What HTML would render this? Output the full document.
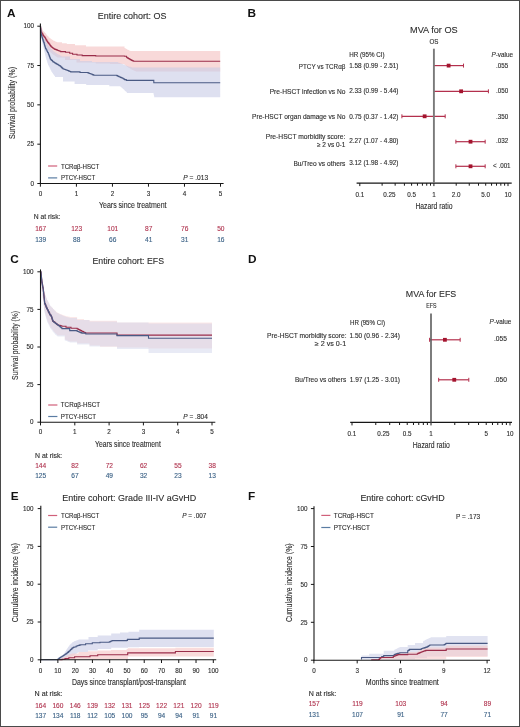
<!DOCTYPE html>
<html><head><meta charset="utf-8"><style>
html,body{margin:0;padding:0;background:#fff;}
body{width:520px;height:727px;overflow:hidden;position:relative;}
svg{position:absolute;left:0;top:0;font-family:"Liberation Sans", sans-serif;will-change:transform;}
</style></head><body>
<svg width="520" height="727" viewBox="0 0 520 727">
<rect x="0" y="0" width="520" height="727" fill="#fff"/>
<text x="7.00" y="16.90" font-size="11.8" fill="#111" font-weight="bold">A</text>
<text x="97.70" y="18.50" font-size="9.8" fill="#2d2d2d" stroke="#2d2d2d" stroke-width="0.12" textLength="68.80" lengthAdjust="spacingAndGlyphs">Entire cohort: OS</text>
<path d="M40.40,26.20H40.95V27.35H41.50V28.50H42.25V29.75H43.00V31.00H43.67V31.67H44.33V32.33H45.00V33.00H45.67V33.83H46.33V34.67H47.00V35.50H47.62V36.12H48.25V36.75H48.88V37.38H49.50V38.00H50.20V38.50H50.90V39.00H51.60V39.50H52.30V40.00H53.00V40.50H53.70V40.80H54.40V41.10H55.10V41.40H55.80V41.70H56.50V42.00H57.20V42.30H62.00V43.30H66.80V44.00H75.00V45.30H86.00V46.50H124.50V47.90H125.12V48.30H125.75V48.70H126.38V49.10H127.00V49.50H127.66V49.80H128.32V50.10H128.98V50.40H129.64V50.70H130.30V51.00H220.20V51.70L220.20,71.50L220.20,71.50L136.00,71.50L136.00,71.20L135.24,71.20L135.24,70.90L134.48,70.90L134.48,70.60L133.72,70.60L133.72,70.30L132.96,70.30L132.96,70.00L132.20,70.00L132.20,69.58L131.50,69.58L131.50,69.17L130.80,69.17L130.80,68.75L130.10,68.75L130.10,68.33L129.40,68.33L129.40,67.92L128.70,67.92L128.70,67.50L128.00,67.50L128.00,67.00L127.30,67.00L127.30,66.50L126.60,66.50L126.60,66.00L125.90,66.00L125.90,65.50L125.20,65.50L125.20,65.00L124.50,65.00L124.50,64.00L110.00,64.00L110.00,63.50L95.70,63.50L95.70,62.50L76.50,62.50L76.50,60.00L65.00,60.00L65.00,57.50L57.20,57.50L57.20,57.00L56.46,57.00L56.46,56.50L55.71,56.50L55.71,56.00L54.97,56.00L54.97,55.50L54.23,55.50L54.23,55.00L53.49,55.00L53.49,54.50L52.74,54.50L52.74,54.00L52.00,54.00L52.00,53.33L51.27,53.33L51.27,52.67L50.53,52.67L50.53,52.00L49.80,52.00L49.80,51.33L49.07,51.33L49.07,50.67L48.33,50.67L48.33,50.00L47.60,50.00L47.60,48.86L47.09,48.86L47.09,47.71L46.57,47.71L46.57,46.57L46.06,46.57L46.06,45.43L45.54,45.43L45.54,44.29L45.03,44.29L45.03,43.14L44.51,43.14L44.51,42.00L44.00,42.00L44.00,40.90L43.63,40.90L43.63,39.80L43.27,39.80L43.27,38.70L42.90,38.70L42.90,37.60L42.53,37.60L42.53,36.50L42.17,36.50L42.17,35.40L41.80,35.40L41.80,34.30L41.65,34.30L41.65,33.20L41.50,33.20L41.50,32.10L41.35,32.10L41.35,31.00L41.20,31.00L41.20,29.80L41.00,29.80L41.00,28.60L40.80,28.60L40.80,27.40L40.60,27.40L40.60,26.20L40.40,26.20Z" fill="#f6cccc" fill-opacity="0.75"/>
<path d="M40.40,26.20H40.70V27.60H41.00V29.00H41.33V30.33H41.67V31.67H42.00V33.00H42.50V34.33H43.00V35.67H43.50V37.00H44.25V38.50H45.00V40.00H45.65V41.25H46.30V42.50H46.95V43.75H47.60V45.00H48.40V46.00H49.20V47.00H50.00V48.00H50.75V48.75H51.50V49.50H52.25V50.25H53.00V51.00H53.70V51.50H54.40V52.00H55.10V52.50H55.80V53.00H56.50V53.50H57.20V54.00H57.89V54.36H58.57V54.71H59.26V55.07H59.94V55.43H60.63V55.79H61.31V56.14H62.00V56.50H70.00V59.00H80.00V61.00H92.00V62.00H118.00V62.50H118.67V62.75H119.33V63.00H120.00V63.25H120.67V63.50H121.33V63.75H122.00V64.00H122.71V64.29H123.43V64.57H124.14V64.86H124.86V65.14H125.57V65.43H126.29V65.71H127.00V66.00H127.71V66.21H128.43V66.43H129.14V66.64H129.86V66.86H130.57V67.07H131.29V67.29H132.00V67.50H220.20V67.50L220.20,97.20L220.20,97.20L154.20,97.20L154.20,96.07L153.97,96.07L153.97,94.93L153.73,94.93L153.73,93.80L153.50,93.80L153.50,93.00L127.00,93.00L127.00,92.30L126.30,92.30L126.30,91.60L125.60,91.60L125.60,90.90L124.90,90.90L124.90,90.20L124.20,90.20L124.20,89.50L123.50,89.50L123.50,88.90L122.80,88.90L122.80,88.30L122.10,88.30L122.10,87.70L121.40,87.70L121.40,87.10L120.70,87.10L120.70,86.50L120.00,86.50L120.00,86.20L109.30,86.20L109.30,85.00L86.20,85.00L86.20,83.90L74.60,83.90L74.60,81.60L63.00,81.60L63.00,77.00L55.00,77.00L55.00,76.00L54.30,76.00L54.30,75.00L53.60,75.00L53.60,74.00L52.90,74.00L52.90,73.00L52.20,73.00L52.20,72.00L51.50,72.00L51.50,70.83L50.92,70.83L50.92,69.67L50.33,69.67L50.33,68.50L49.75,68.50L49.75,67.33L49.17,67.33L49.17,66.17L48.58,66.17L48.58,65.00L48.00,65.00L48.00,63.83L47.63,63.83L47.63,62.67L47.27,62.67L47.27,61.50L46.90,61.50L46.90,60.33L46.53,60.33L46.53,59.17L46.17,59.17L46.17,58.00L45.80,58.00L45.80,56.86L45.54,56.86L45.54,55.71L45.29,55.71L45.29,54.57L45.03,54.57L45.03,53.43L44.77,53.43L44.77,52.29L44.51,52.29L44.51,51.14L44.26,51.14L44.26,50.00L44.00,50.00L44.00,48.86L43.71,48.86L43.71,47.71L43.43,47.71L43.43,46.57L43.14,46.57L43.14,45.43L42.86,45.43L42.86,44.29L42.57,44.29L42.57,43.14L42.29,43.14L42.29,42.00L42.00,42.00L42.00,40.83L41.83,40.83L41.83,39.67L41.67,39.67L41.67,38.50L41.50,38.50L41.50,37.33L41.33,37.33L41.33,36.17L41.17,36.17L41.17,35.00L41.00,35.00L41.00,33.74L40.91,33.74L40.91,32.49L40.83,32.49L40.83,31.23L40.74,31.23L40.74,29.97L40.66,29.97L40.66,28.71L40.57,28.71L40.57,27.46L40.49,27.46L40.49,26.20L40.40,26.20Z" fill="#c8cce6" fill-opacity="0.6"/>
<path d="M40.40,26.20H40.54V27.42H40.68V28.64H40.82V29.86H40.96V31.08H41.10V32.30H41.95V33.70H42.80V35.10H43.50V36.00H44.20V36.90H44.90V37.80H45.57V38.97H46.23V40.13H46.90V41.30H47.60V42.20H48.30V43.10H49.00V44.00H49.70V44.93H50.40V45.87H51.10V46.80H51.77V47.30H52.45V47.80H53.12V48.30H53.80V48.80H54.50V49.08H55.20V49.36H55.90V49.64H56.60V49.92H57.30V50.20H57.98V50.48H58.66V50.76H59.34V51.04H60.02V51.32H60.70V51.60H65.50V52.30H69.70V53.30H72.60V54.20H77.00V55.00H82.20V55.60H95.70V56.00H124.50V56.30H126.50V57.30H127.13V57.70H127.77V58.10H128.40V58.50H129.05V58.88H129.70V59.25H130.35V59.62H131.00V60.00H131.68V60.33H132.35V60.65H133.02V60.97H133.70V61.30H220.20V61.30" stroke="#9a2d4a" fill="none" stroke-width="1.1"/>
<path d="M40.40,26.20H40.50V27.37H40.60V28.54H40.70V29.71H40.80V30.89H40.90V32.06H41.00V33.23H41.10V34.40H41.44V35.50H41.78V36.60H42.12V37.70H42.46V38.80H42.80V39.90H43.27V41.27H43.73V42.63H44.20V44.00H44.55V45.20H44.90V46.40H45.25V47.60H45.60V48.80H46.27V50.02H46.95V51.25H47.62V52.48H48.30V53.70H48.72V54.80H49.14V55.90H49.56V57.00H49.98V58.10H50.40V59.20H51.08V59.88H51.75V60.55H52.42V61.23H53.10V61.90H53.80V62.32H54.50V62.74H55.20V63.16H55.90V63.58H56.60V64.00H57.28V64.40H57.96V64.80H58.64V65.20H59.32V65.60H60.00V66.00H60.70V66.70H61.40V67.40H62.10V68.10H62.80V68.80H63.48V69.03H64.17V69.27H64.85V69.50H65.53V69.73H66.22V69.97H66.90V70.20H67.66V70.54H68.42V70.88H69.18V71.22H69.94V71.56H70.70V71.90H80.00V72.50H88.00V72.90H88.75V73.18H89.50V73.45H90.25V73.72H91.00V74.00H91.70V74.30H92.40V74.60H93.10V74.90H93.80V75.20H116.80V75.60H117.53V75.97H118.27V76.33H119.00V76.70H119.72V77.02H120.44V77.34H121.16V77.66H121.88V77.98H122.60V78.30H123.27V78.73H123.93V79.17H124.60V79.60H126.30V80.40H153.80V80.40H153.80V82.70H220.20V82.70" stroke="#4a5a84" fill="none" stroke-width="1.1"/>
<line x1="40.40" y1="23.60" x2="40.40" y2="184.00" stroke="#161616" stroke-width="1.1"/>
<line x1="37.30" y1="26.20" x2="40.40" y2="26.20" stroke="#161616" stroke-width="1"/>
<text x="34.00" y="28.40" font-size="6.3" fill="#2d2d2d" stroke="#2d2d2d" stroke-width="0.12" text-anchor="end">100</text>
<line x1="37.30" y1="65.53" x2="40.40" y2="65.53" stroke="#161616" stroke-width="1"/>
<text x="34.00" y="67.73" font-size="6.3" fill="#2d2d2d" stroke="#2d2d2d" stroke-width="0.12" text-anchor="end">75</text>
<line x1="37.30" y1="104.85" x2="40.40" y2="104.85" stroke="#161616" stroke-width="1"/>
<text x="34.00" y="107.05" font-size="6.3" fill="#2d2d2d" stroke="#2d2d2d" stroke-width="0.12" text-anchor="end">50</text>
<line x1="37.30" y1="144.18" x2="40.40" y2="144.18" stroke="#161616" stroke-width="1"/>
<text x="34.00" y="146.38" font-size="6.3" fill="#2d2d2d" stroke="#2d2d2d" stroke-width="0.12" text-anchor="end">25</text>
<line x1="37.30" y1="183.50" x2="40.40" y2="183.50" stroke="#161616" stroke-width="1"/>
<text x="34.00" y="185.70" font-size="6.3" fill="#2d2d2d" stroke="#2d2d2d" stroke-width="0.12" text-anchor="end">0</text>
<line x1="39.90" y1="183.50" x2="223.60" y2="183.50" stroke="#161616" stroke-width="1.1"/>
<line x1="40.40" y1="183.50" x2="40.40" y2="186.70" stroke="#161616" stroke-width="1"/>
<text x="40.40" y="195.50" font-size="6.3" fill="#2d2d2d" stroke="#2d2d2d" stroke-width="0.12" text-anchor="middle">0</text>
<line x1="76.42" y1="183.50" x2="76.42" y2="186.70" stroke="#161616" stroke-width="1"/>
<text x="76.42" y="195.50" font-size="6.3" fill="#2d2d2d" stroke="#2d2d2d" stroke-width="0.12" text-anchor="middle">1</text>
<line x1="112.44" y1="183.50" x2="112.44" y2="186.70" stroke="#161616" stroke-width="1"/>
<text x="112.44" y="195.50" font-size="6.3" fill="#2d2d2d" stroke="#2d2d2d" stroke-width="0.12" text-anchor="middle">2</text>
<line x1="148.46" y1="183.50" x2="148.46" y2="186.70" stroke="#161616" stroke-width="1"/>
<text x="148.46" y="195.50" font-size="6.3" fill="#2d2d2d" stroke="#2d2d2d" stroke-width="0.12" text-anchor="middle">3</text>
<line x1="184.48" y1="183.50" x2="184.48" y2="186.70" stroke="#161616" stroke-width="1"/>
<text x="184.48" y="195.50" font-size="6.3" fill="#2d2d2d" stroke="#2d2d2d" stroke-width="0.12" text-anchor="middle">4</text>
<line x1="220.50" y1="183.50" x2="220.50" y2="186.70" stroke="#161616" stroke-width="1"/>
<text x="220.50" y="195.50" font-size="6.3" fill="#2d2d2d" stroke="#2d2d2d" stroke-width="0.12" text-anchor="middle">5</text>
<text stroke="#2d2d2d" stroke-width="0.12" transform="translate(15.0,103) rotate(-90)" font-size="8.6" fill="#2d2d2d" text-anchor="middle" textLength="72" lengthAdjust="spacingAndGlyphs">Survival probability (%)</text>
<text x="99.00" y="207.80" font-size="8.7" fill="#2d2d2d" stroke="#2d2d2d" stroke-width="0.12" textLength="67.50" lengthAdjust="spacingAndGlyphs">Years since treatment</text>
<line x1="48.10" y1="166.00" x2="57.20" y2="166.00" stroke="#d0607a" stroke-width="1.2"/>
<text x="60.90" y="168.70" font-size="6.4" fill="#2d2d2d" stroke="#2d2d2d" stroke-width="0.12" textLength="38.30" lengthAdjust="spacingAndGlyphs">TCRαβ-HSCT</text>
<line x1="48.10" y1="177.90" x2="57.20" y2="177.90" stroke="#5a7ca3" stroke-width="1.2"/>
<text x="60.90" y="180.30" font-size="6.4" fill="#2d2d2d" stroke="#2d2d2d" stroke-width="0.12" textLength="34.30" lengthAdjust="spacingAndGlyphs">PTCY-HSCT</text>
<text x="183.3" y="179.8" font-size="6.4" fill="#2d2d2d" stroke="#2d2d2d" stroke-width="0.12" textLength="24.8" lengthAdjust="spacingAndGlyphs"><tspan font-style="italic">P</tspan> = .013</text>
<text x="33.80" y="218.80" font-size="6.4" fill="#2d2d2d" stroke="#2d2d2d" stroke-width="0.12" textLength="26.60" lengthAdjust="spacingAndGlyphs">N at risk:</text>
<text x="40.70" y="231.10" font-size="6.6" fill="#b0344f" stroke="#b0344f" stroke-width="0.12" text-anchor="middle">167</text>
<text x="40.70" y="241.50" font-size="6.6" fill="#3c6286" stroke="#3c6286" stroke-width="0.12" text-anchor="middle">139</text>
<text x="76.72" y="231.10" font-size="6.6" fill="#b0344f" stroke="#b0344f" stroke-width="0.12" text-anchor="middle">123</text>
<text x="76.72" y="241.50" font-size="6.6" fill="#3c6286" stroke="#3c6286" stroke-width="0.12" text-anchor="middle">88</text>
<text x="112.74" y="231.10" font-size="6.6" fill="#b0344f" stroke="#b0344f" stroke-width="0.12" text-anchor="middle">101</text>
<text x="112.74" y="241.50" font-size="6.6" fill="#3c6286" stroke="#3c6286" stroke-width="0.12" text-anchor="middle">66</text>
<text x="148.76" y="231.10" font-size="6.6" fill="#b0344f" stroke="#b0344f" stroke-width="0.12" text-anchor="middle">87</text>
<text x="148.76" y="241.50" font-size="6.6" fill="#3c6286" stroke="#3c6286" stroke-width="0.12" text-anchor="middle">41</text>
<text x="184.78" y="231.10" font-size="6.6" fill="#b0344f" stroke="#b0344f" stroke-width="0.12" text-anchor="middle">76</text>
<text x="184.78" y="241.50" font-size="6.6" fill="#3c6286" stroke="#3c6286" stroke-width="0.12" text-anchor="middle">31</text>
<text x="220.80" y="231.10" font-size="6.6" fill="#b0344f" stroke="#b0344f" stroke-width="0.12" text-anchor="middle">50</text>
<text x="220.80" y="241.50" font-size="6.6" fill="#3c6286" stroke="#3c6286" stroke-width="0.12" text-anchor="middle">16</text>
<text x="247.40" y="16.80" font-size="11.8" fill="#111" font-weight="bold">B</text>
<text x="410.00" y="33.40" font-size="9.7" fill="#2d2d2d" stroke="#2d2d2d" stroke-width="0.12" textLength="47.70" lengthAdjust="spacingAndGlyphs">MVA for OS</text>
<text x="429.50" y="43.90" font-size="6.5" fill="#2d2d2d" stroke="#2d2d2d" stroke-width="0.12" textLength="9.00" lengthAdjust="spacingAndGlyphs">OS</text>
<line x1="356.60" y1="183.10" x2="511.70" y2="183.10" stroke="#161616" stroke-width="1.1"/>
<line x1="359.80" y1="183.10" x2="359.80" y2="186.10" stroke="#161616" stroke-width="1.0"/>
<line x1="382.11" y1="183.10" x2="382.11" y2="185.70" stroke="#161616" stroke-width="1.0"/>
<line x1="395.15" y1="183.10" x2="395.15" y2="185.70" stroke="#161616" stroke-width="1.0"/>
<line x1="404.41" y1="183.10" x2="404.41" y2="185.70" stroke="#161616" stroke-width="1.0"/>
<line x1="411.59" y1="183.10" x2="411.59" y2="185.70" stroke="#161616" stroke-width="1.0"/>
<line x1="417.46" y1="183.10" x2="417.46" y2="185.70" stroke="#161616" stroke-width="1.0"/>
<line x1="422.42" y1="183.10" x2="422.42" y2="185.70" stroke="#161616" stroke-width="1.0"/>
<line x1="426.72" y1="183.10" x2="426.72" y2="185.70" stroke="#161616" stroke-width="1.0"/>
<line x1="430.51" y1="183.10" x2="430.51" y2="185.70" stroke="#161616" stroke-width="1.0"/>
<line x1="433.90" y1="183.10" x2="433.90" y2="186.10" stroke="#161616" stroke-width="1.0"/>
<line x1="456.21" y1="183.10" x2="456.21" y2="185.70" stroke="#161616" stroke-width="1.0"/>
<line x1="469.25" y1="183.10" x2="469.25" y2="185.70" stroke="#161616" stroke-width="1.0"/>
<line x1="478.51" y1="183.10" x2="478.51" y2="185.70" stroke="#161616" stroke-width="1.0"/>
<line x1="485.69" y1="183.10" x2="485.69" y2="185.70" stroke="#161616" stroke-width="1.0"/>
<line x1="491.56" y1="183.10" x2="491.56" y2="185.70" stroke="#161616" stroke-width="1.0"/>
<line x1="496.52" y1="183.10" x2="496.52" y2="185.70" stroke="#161616" stroke-width="1.0"/>
<line x1="500.82" y1="183.10" x2="500.82" y2="185.70" stroke="#161616" stroke-width="1.0"/>
<line x1="504.61" y1="183.10" x2="504.61" y2="185.70" stroke="#161616" stroke-width="1.0"/>
<line x1="508.00" y1="183.10" x2="508.00" y2="186.10" stroke="#161616" stroke-width="1.0"/>
<text x="359.80" y="197.00" font-size="6.3" fill="#2d2d2d" stroke="#2d2d2d" stroke-width="0.12" text-anchor="middle">0.1</text>
<text x="389.29" y="197.00" font-size="6.3" fill="#2d2d2d" stroke="#2d2d2d" stroke-width="0.12" text-anchor="middle">0.25</text>
<text x="411.59" y="197.00" font-size="6.3" fill="#2d2d2d" stroke="#2d2d2d" stroke-width="0.12" text-anchor="middle">0.5</text>
<text x="433.90" y="197.00" font-size="6.3" fill="#2d2d2d" stroke="#2d2d2d" stroke-width="0.12" text-anchor="middle">1</text>
<text x="456.21" y="197.00" font-size="6.3" fill="#2d2d2d" stroke="#2d2d2d" stroke-width="0.12" text-anchor="middle">2.0</text>
<text x="485.69" y="197.00" font-size="6.3" fill="#2d2d2d" stroke="#2d2d2d" stroke-width="0.12" text-anchor="middle">5.0</text>
<text x="508.00" y="197.00" font-size="6.3" fill="#2d2d2d" stroke="#2d2d2d" stroke-width="0.12" text-anchor="middle">10</text>
<line x1="433.58" y1="65.60" x2="463.52" y2="65.60" stroke="#b3304d" stroke-width="1.2"/>
<line x1="433.58" y1="63.60" x2="433.58" y2="67.60" stroke="#b3304d" stroke-width="1.0"/>
<line x1="463.52" y1="63.60" x2="463.52" y2="67.60" stroke="#b3304d" stroke-width="1.0"/>
<rect x="446.72" y="63.70" width="3.8" height="3.8" fill="#a4142e"/>
<line x1="433.58" y1="91.30" x2="488.41" y2="91.30" stroke="#b3304d" stroke-width="1.2"/>
<line x1="433.58" y1="89.30" x2="433.58" y2="93.30" stroke="#b3304d" stroke-width="1.0"/>
<line x1="488.41" y1="89.30" x2="488.41" y2="93.30" stroke="#b3304d" stroke-width="1.0"/>
<rect x="459.22" y="89.40" width="3.8" height="3.8" fill="#a4142e"/>
<line x1="401.90" y1="116.30" x2="445.18" y2="116.30" stroke="#b3304d" stroke-width="1.2"/>
<line x1="401.90" y1="114.30" x2="401.90" y2="118.30" stroke="#b3304d" stroke-width="1.0"/>
<line x1="445.18" y1="114.30" x2="445.18" y2="118.30" stroke="#b3304d" stroke-width="1.0"/>
<rect x="422.74" y="114.40" width="3.8" height="3.8" fill="#a4142e"/>
<line x1="455.88" y1="141.70" x2="485.17" y2="141.70" stroke="#b3304d" stroke-width="1.2"/>
<line x1="455.88" y1="139.70" x2="455.88" y2="143.70" stroke="#b3304d" stroke-width="1.0"/>
<line x1="485.17" y1="139.70" x2="485.17" y2="143.70" stroke="#b3304d" stroke-width="1.0"/>
<rect x="468.62" y="139.80" width="3.8" height="3.8" fill="#a4142e"/>
<line x1="455.88" y1="166.30" x2="485.17" y2="166.30" stroke="#b3304d" stroke-width="1.2"/>
<line x1="455.88" y1="164.30" x2="455.88" y2="168.30" stroke="#b3304d" stroke-width="1.0"/>
<line x1="485.17" y1="164.30" x2="485.17" y2="168.30" stroke="#b3304d" stroke-width="1.0"/>
<rect x="468.62" y="164.40" width="3.8" height="3.8" fill="#a4142e"/>
<line x1="433.90" y1="48.70" x2="433.90" y2="183.10" stroke="#7a7a7a" stroke-width="1.9"/>
<text x="415.40" y="208.70" font-size="8.7" fill="#2d2d2d" stroke="#2d2d2d" stroke-width="0.12" textLength="37.10" lengthAdjust="spacingAndGlyphs">Hazard ratio</text>
<text x="349.20" y="57.00" font-size="6.8" fill="#2d2d2d" stroke="#2d2d2d" stroke-width="0.12" textLength="35.40" lengthAdjust="spacingAndGlyphs">HR (95% CI)</text>
<text x="491.4" y="56.9" font-size="6.8" fill="#2d2d2d" stroke="#2d2d2d" stroke-width="0.12" textLength="21.6" lengthAdjust="spacingAndGlyphs"><tspan font-style="italic">P</tspan>-value</text>
<text x="298.80" y="68.60" font-size="6.8" fill="#2d2d2d" stroke="#2d2d2d" stroke-width="0.12" textLength="46.60" lengthAdjust="spacingAndGlyphs">PTCY vs TCRαβ</text>
<text x="349.20" y="68.10" font-size="6.8" fill="#2d2d2d" stroke="#2d2d2d" stroke-width="0.12" textLength="49.30" lengthAdjust="spacingAndGlyphs">1.58 (0.99 - 2.51)</text>
<text x="496.00" y="68.10" font-size="6.8" fill="#2d2d2d" stroke="#2d2d2d" stroke-width="0.12" textLength="12.20" lengthAdjust="spacingAndGlyphs">.055</text>
<text x="269.70" y="93.70" font-size="6.8" fill="#2d2d2d" stroke="#2d2d2d" stroke-width="0.12" textLength="75.70" lengthAdjust="spacingAndGlyphs">Pre-HSCT infection vs No</text>
<text x="349.20" y="93.20" font-size="6.8" fill="#2d2d2d" stroke="#2d2d2d" stroke-width="0.12" textLength="49.30" lengthAdjust="spacingAndGlyphs">2.33 (0.99 - 5.44)</text>
<text x="496.00" y="93.20" font-size="6.8" fill="#2d2d2d" stroke="#2d2d2d" stroke-width="0.12" textLength="12.20" lengthAdjust="spacingAndGlyphs">.050</text>
<text x="252.10" y="118.90" font-size="6.8" fill="#2d2d2d" stroke="#2d2d2d" stroke-width="0.12" textLength="93.30" lengthAdjust="spacingAndGlyphs">Pre-HSCT organ damage vs No</text>
<text x="349.20" y="118.50" font-size="6.8" fill="#2d2d2d" stroke="#2d2d2d" stroke-width="0.12" textLength="49.30" lengthAdjust="spacingAndGlyphs">0.75 (0.37 - 1.42)</text>
<text x="496.00" y="118.50" font-size="6.8" fill="#2d2d2d" stroke="#2d2d2d" stroke-width="0.12" textLength="12.20" lengthAdjust="spacingAndGlyphs">.350</text>
<text x="265.70" y="139.10" font-size="6.8" fill="#2d2d2d" stroke="#2d2d2d" stroke-width="0.12" textLength="79.70" lengthAdjust="spacingAndGlyphs">Pre-HSCT morbidity score:</text>
<text x="316.90" y="146.60" font-size="6.8" fill="#2d2d2d" stroke="#2d2d2d" stroke-width="0.12" textLength="28.50" lengthAdjust="spacingAndGlyphs">≥ 2 vs 0-1</text>
<text x="349.20" y="142.70" font-size="6.8" fill="#2d2d2d" stroke="#2d2d2d" stroke-width="0.12" textLength="49.30" lengthAdjust="spacingAndGlyphs">2.27 (1.07 - 4.80)</text>
<text x="496.00" y="142.70" font-size="6.8" fill="#2d2d2d" stroke="#2d2d2d" stroke-width="0.12" textLength="12.40" lengthAdjust="spacingAndGlyphs">.032</text>
<text x="293.40" y="165.80" font-size="6.8" fill="#2d2d2d" stroke="#2d2d2d" stroke-width="0.12" textLength="52.00" lengthAdjust="spacingAndGlyphs">Bu/Treo vs others</text>
<text x="349.20" y="165.40" font-size="6.8" fill="#2d2d2d" stroke="#2d2d2d" stroke-width="0.12" textLength="49.30" lengthAdjust="spacingAndGlyphs">3.12 (1.98 - 4.92)</text>
<text x="493.10" y="168.40" font-size="6.8" fill="#2d2d2d" stroke="#2d2d2d" stroke-width="0.12" textLength="17.50" lengthAdjust="spacingAndGlyphs">&lt; .001</text>
<text x="10.30" y="262.70" font-size="11.8" fill="#111" font-weight="bold">C</text>
<text x="92.50" y="263.80" font-size="9.8" fill="#2d2d2d" stroke="#2d2d2d" stroke-width="0.12" textLength="71.50" lengthAdjust="spacingAndGlyphs">Entire cohort: EFS</text>
<path d="M40.50,271.80H40.83V273.20H41.17V274.60H41.50V276.00H41.75V277.27H42.00V278.55H42.25V279.83H42.50V281.10H42.71V282.23H42.93V283.36H43.14V284.49H43.36V285.61H43.57V286.74H43.79V287.87H44.00V289.00H44.20V290.16H44.40V291.32H44.60V292.48H44.80V293.64H45.00V294.80H45.50V296.10H46.00V297.40H46.50V298.70H47.00V300.00H47.58V301.18H48.16V302.36H48.74V303.54H49.32V304.72H49.90V305.90H50.67V306.67H51.45V307.45H52.23V308.23H53.00V309.00H53.77V309.77H54.55V310.55H55.33V311.33H56.10V312.10H56.75V312.42H57.40V312.73H58.05V313.05H58.70V313.37H59.35V313.68H60.00V314.00H60.69V314.26H61.37V314.51H62.06V314.77H62.74V315.03H63.43V315.29H64.11V315.54H64.80V315.80H65.54V315.97H66.29V316.14H67.03V316.31H67.77V316.49H68.51V316.66H69.26V316.83H70.00V317.00H77.10V318.90H84.00V320.00H89.50V320.70H117.00V321.00H117.00V322.50H212.00V323.00L212.00,349.00L212.00,348.50L148.50,348.50L148.50,347.50L117.00,347.50L117.00,346.70L100.00,346.70L100.00,345.50L89.50,345.50L89.50,343.20L77.10,343.20L77.10,341.50L70.00,341.50L70.00,341.21L69.26,341.21L69.26,340.93L68.51,340.93L68.51,340.64L67.77,340.64L67.77,340.36L67.03,340.36L67.03,340.07L66.29,340.07L66.29,339.79L65.54,339.79L65.54,339.50L64.80,339.50L64.80,335.20L57.50,335.20L57.50,334.65L56.88,334.65L56.88,334.10L56.25,334.10L56.25,333.55L55.62,333.55L55.62,333.00L55.00,333.00L55.00,332.25L54.38,332.25L54.38,331.50L53.75,331.50L53.75,330.75L53.12,330.75L53.12,330.00L52.50,330.00L52.50,329.12L51.88,329.12L51.88,328.25L51.25,328.25L51.25,327.38L50.62,327.38L50.62,326.50L50.00,326.50L50.00,325.25L49.38,325.25L49.38,324.00L48.75,324.00L48.75,322.75L48.12,322.75L48.12,321.50L47.50,321.50L47.50,320.38L47.12,320.38L47.12,319.25L46.75,319.25L46.75,318.12L46.38,318.12L46.38,317.00L46.00,317.00L46.00,315.80L45.70,315.80L45.70,314.60L45.40,314.60L45.40,313.40L45.10,313.40L45.10,312.20L44.80,312.20L44.80,311.00L44.50,311.00L44.50,309.83L44.36,309.83L44.36,308.67L44.22,308.67L44.22,307.50L44.08,307.50L44.08,306.33L43.93,306.33L43.93,305.17L43.79,305.17L43.79,304.00L43.65,304.00L43.65,302.83L43.51,302.83L43.51,301.67L43.37,301.67L43.37,300.50L43.22,300.50L43.22,299.33L43.08,299.33L43.08,298.17L42.94,298.17L42.94,297.00L42.80,297.00L42.80,295.88L42.64,295.88L42.64,294.75L42.47,294.75L42.47,293.62L42.31,293.62L42.31,292.50L42.15,292.50L42.15,291.38L41.99,291.38L41.99,290.25L41.83,290.25L41.83,289.12L41.66,289.12L41.66,288.00L41.50,288.00L41.50,286.75L41.42,286.75L41.42,285.51L41.35,285.51L41.35,284.26L41.27,284.26L41.27,283.02L41.19,283.02L41.19,281.77L41.12,281.77L41.12,280.52L41.04,280.52L41.04,279.28L40.96,279.28L40.96,278.03L40.88,278.03L40.88,276.78L40.81,276.78L40.81,275.54L40.73,275.54L40.73,274.29L40.65,274.29L40.65,273.05L40.58,273.05L40.58,271.80L40.50,271.80Z" fill="#f6cccc" fill-opacity="0.45"/>
<path d="M40.50,271.80H40.83V273.20H41.17V274.60H41.50V276.00H41.70V277.20H41.90V278.40H42.10V279.60H42.30V280.80H42.50V282.00H42.71V283.14H42.93V284.29H43.14V285.43H43.36V286.57H43.57V287.71H43.79V288.86H44.00V290.00H44.25V291.25H44.50V292.50H44.75V293.75H45.00V295.00H45.50V296.25H46.00V297.50H46.50V298.75H47.00V300.00H47.58V301.10H48.16V302.20H48.74V303.30H49.32V304.40H49.90V305.50H50.67V306.38H51.45V307.25H52.23V308.12H53.00V309.00H53.77V309.88H54.55V310.75H55.33V311.62H56.10V312.50H56.75V312.83H57.40V313.17H58.05V313.50H58.70V313.83H59.35V314.17H60.00V314.50H60.69V314.79H61.37V315.07H62.06V315.36H62.74V315.64H63.43V315.93H64.11V316.21H64.80V316.50H65.54V316.71H66.29V316.93H67.03V317.14H67.77V317.36H68.51V317.57H69.26V317.79H70.00V318.00H77.10V320.00H89.50V321.50H117.00V322.50H148.50V323.50H212.00V324.00L212.00,353.00L212.00,353.00L148.50,353.00L148.50,349.00L117.00,349.00L117.00,347.50L117.00,347.50L117.00,346.50L89.50,346.50L89.50,344.50L77.10,344.50L77.10,342.50L70.00,342.50L70.00,342.21L69.26,342.21L69.26,341.93L68.51,341.93L68.51,341.64L67.77,341.64L67.77,341.36L67.03,341.36L67.03,341.07L66.29,341.07L66.29,340.79L65.54,340.79L65.54,340.50L64.80,340.50L64.80,336.50L57.50,336.50L57.50,336.00L56.88,336.00L56.88,335.50L56.25,335.50L56.25,335.00L55.62,335.00L55.62,334.50L55.00,334.50L55.00,333.75L54.38,333.75L54.38,333.00L53.75,333.00L53.75,332.25L53.12,332.25L53.12,331.50L52.50,331.50L52.50,330.62L51.88,330.62L51.88,329.75L51.25,329.75L51.25,328.88L50.62,328.88L50.62,328.00L50.00,328.00L50.00,326.75L49.38,326.75L49.38,325.50L48.75,325.50L48.75,324.25L48.12,324.25L48.12,323.00L47.50,323.00L47.50,321.88L47.12,321.88L47.12,320.75L46.75,320.75L46.75,319.62L46.38,319.62L46.38,318.50L46.00,318.50L46.00,317.30L45.70,317.30L45.70,316.10L45.40,316.10L45.40,314.90L45.10,314.90L45.10,313.70L44.80,313.70L44.80,312.50L44.50,312.50L44.50,311.27L44.35,311.27L44.35,310.05L44.19,310.05L44.19,308.82L44.04,308.82L44.04,307.59L43.88,307.59L43.88,306.36L43.73,306.36L43.73,305.14L43.57,305.14L43.57,303.91L43.42,303.91L43.42,302.68L43.26,302.68L43.26,301.45L43.11,301.45L43.11,300.23L42.95,300.23L42.95,299.00L42.80,299.00L42.80,297.88L42.64,297.88L42.64,296.75L42.47,296.75L42.47,295.62L42.31,295.62L42.31,294.50L42.15,294.50L42.15,293.38L41.99,293.38L41.99,292.25L41.83,292.25L41.83,291.12L41.66,291.12L41.66,290.00L41.50,290.00L41.50,288.79L41.43,288.79L41.43,287.57L41.37,287.57L41.37,286.36L41.30,286.36L41.30,285.15L41.23,285.15L41.23,283.93L41.17,283.93L41.17,282.72L41.10,282.72L41.10,281.51L41.03,281.51L41.03,280.29L40.97,280.29L40.97,279.08L40.90,279.08L40.90,277.87L40.83,277.87L40.83,276.65L40.77,276.65L40.77,275.44L40.70,275.44L40.70,274.23L40.63,274.23L40.63,273.01L40.57,273.01L40.57,271.80L40.50,271.80Z" fill="#c8cce6" fill-opacity="0.42"/>
<path d="M40.50,271.80H40.90V272.50H41.02V273.74H41.15V274.98H41.27V276.21H41.40V277.45H41.52V278.69H41.65V279.92H41.77V281.16H41.90V282.40H42.13V283.68H42.37V284.97H42.60V286.25H42.83V287.53H43.07V288.82H43.30V290.10H43.43V291.33H43.55V292.55H43.68V293.78H43.81V295.01H43.94V296.24H44.06V297.46H44.19V298.69H44.32V299.92H44.45V301.15H44.57V302.37H44.70V303.60H45.20V304.80H45.70V306.00H46.20V307.20H46.70V308.40H47.28V309.56H47.86V310.72H48.44V311.88H49.02V313.04H49.60V314.20H50.23V315.13H50.87V316.07H51.50V317.00H51.83V318.30H52.17V319.60H52.50V320.90H53.30V321.53H54.10V322.17H54.90V322.80H55.70V323.47H56.50V324.13H57.30V324.80H57.99V325.00H58.67V325.20H59.36V325.40H60.04V325.60H60.73V325.80H61.41V326.00H62.10V326.20H66.00V327.20H71.00V328.20H77.10V328.80H77.84V329.16H78.58V329.52H79.32V329.88H80.06V330.24H80.80V330.60H81.46V330.94H82.11V331.29H82.77V331.63H83.43V331.97H84.09V332.31H84.74V332.66H85.40V333.00H117.00V333.00H117.00V335.10H212.00V335.10" stroke="#9a2d4a" fill="none" stroke-width="1.1"/>
<path d="M40.50,271.80H40.90V272.50H41.02V273.74H41.15V274.98H41.27V276.21H41.40V277.45H41.52V278.69H41.65V279.92H41.77V281.16H41.90V282.40H42.13V283.68H42.37V284.97H42.60V286.25H42.83V287.53H43.07V288.82H43.30V290.10H43.43V291.33H43.55V292.55H43.68V293.78H43.81V295.01H43.94V296.24H44.06V297.46H44.19V298.69H44.32V299.92H44.45V301.15H44.57V302.37H44.70V303.60H45.20V304.80H45.70V306.00H46.20V307.20H46.70V308.40H47.28V309.56H47.86V310.72H48.44V311.88H49.02V313.04H49.60V314.20H50.23V315.13H50.87V316.07H51.50V317.00H51.88V318.12H52.25V319.25H52.62V320.38H53.00V321.50H53.66V322.00H54.32V322.50H54.98V323.00H55.64V323.50H56.30V324.00H56.97V324.50H57.65V325.00H58.33V325.50H59.00V326.00H59.77V326.65H60.55V327.30H61.33V327.95H62.10V328.60H69.70V330.60H77.10V331.30H77.81V331.56H78.53V331.81H79.24V332.07H79.96V332.33H80.67V332.59H81.39V332.84H82.10V333.10H85.80V334.00H117.00V334.00H117.00V335.60H148.50V335.60H148.50V338.30H212.00V338.30" stroke="#4a5a84" fill="none" stroke-width="1.1"/>
<line x1="40.50" y1="269.40" x2="40.50" y2="422.70" stroke="#161616" stroke-width="1.1"/>
<line x1="37.40" y1="271.80" x2="40.50" y2="271.80" stroke="#161616" stroke-width="1"/>
<text x="33.50" y="274.00" font-size="6.3" fill="#2d2d2d" stroke="#2d2d2d" stroke-width="0.12" text-anchor="end">100</text>
<line x1="37.40" y1="309.40" x2="40.50" y2="309.40" stroke="#161616" stroke-width="1"/>
<text x="33.50" y="311.60" font-size="6.3" fill="#2d2d2d" stroke="#2d2d2d" stroke-width="0.12" text-anchor="end">75</text>
<line x1="37.40" y1="347.00" x2="40.50" y2="347.00" stroke="#161616" stroke-width="1"/>
<text x="33.50" y="349.20" font-size="6.3" fill="#2d2d2d" stroke="#2d2d2d" stroke-width="0.12" text-anchor="end">50</text>
<line x1="37.40" y1="384.60" x2="40.50" y2="384.60" stroke="#161616" stroke-width="1"/>
<text x="33.50" y="386.80" font-size="6.3" fill="#2d2d2d" stroke="#2d2d2d" stroke-width="0.12" text-anchor="end">25</text>
<line x1="37.40" y1="422.20" x2="40.50" y2="422.20" stroke="#161616" stroke-width="1"/>
<text x="33.50" y="424.40" font-size="6.3" fill="#2d2d2d" stroke="#2d2d2d" stroke-width="0.12" text-anchor="end">0</text>
<line x1="40.00" y1="422.20" x2="215.30" y2="422.20" stroke="#161616" stroke-width="1.1"/>
<line x1="40.50" y1="422.20" x2="40.50" y2="425.40" stroke="#161616" stroke-width="1"/>
<text x="40.50" y="434.30" font-size="6.3" fill="#2d2d2d" stroke="#2d2d2d" stroke-width="0.12" text-anchor="middle">0</text>
<line x1="74.80" y1="422.20" x2="74.80" y2="425.40" stroke="#161616" stroke-width="1"/>
<text x="74.80" y="434.30" font-size="6.3" fill="#2d2d2d" stroke="#2d2d2d" stroke-width="0.12" text-anchor="middle">1</text>
<line x1="109.10" y1="422.20" x2="109.10" y2="425.40" stroke="#161616" stroke-width="1"/>
<text x="109.10" y="434.30" font-size="6.3" fill="#2d2d2d" stroke="#2d2d2d" stroke-width="0.12" text-anchor="middle">2</text>
<line x1="143.40" y1="422.20" x2="143.40" y2="425.40" stroke="#161616" stroke-width="1"/>
<text x="143.40" y="434.30" font-size="6.3" fill="#2d2d2d" stroke="#2d2d2d" stroke-width="0.12" text-anchor="middle">3</text>
<line x1="177.70" y1="422.20" x2="177.70" y2="425.40" stroke="#161616" stroke-width="1"/>
<text x="177.70" y="434.30" font-size="6.3" fill="#2d2d2d" stroke="#2d2d2d" stroke-width="0.12" text-anchor="middle">4</text>
<line x1="212.00" y1="422.20" x2="212.00" y2="425.40" stroke="#161616" stroke-width="1"/>
<text x="212.00" y="434.30" font-size="6.3" fill="#2d2d2d" stroke="#2d2d2d" stroke-width="0.12" text-anchor="middle">5</text>
<text stroke="#2d2d2d" stroke-width="0.12" transform="translate(17.9,345.6) rotate(-90)" font-size="8.6" fill="#2d2d2d" text-anchor="middle" textLength="69" lengthAdjust="spacingAndGlyphs">Survival probability (%)</text>
<text x="95.00" y="446.80" font-size="8.7" fill="#2d2d2d" stroke="#2d2d2d" stroke-width="0.12" textLength="65.80" lengthAdjust="spacingAndGlyphs">Years since treatment</text>
<line x1="48.20" y1="405.00" x2="57.40" y2="405.00" stroke="#d0607a" stroke-width="1.2"/>
<text x="60.80" y="407.20" font-size="6.4" fill="#2d2d2d" stroke="#2d2d2d" stroke-width="0.12" textLength="39.20" lengthAdjust="spacingAndGlyphs">TCRαβ-HSCT</text>
<line x1="48.20" y1="416.50" x2="57.40" y2="416.50" stroke="#5a7ca3" stroke-width="1.2"/>
<text x="60.80" y="418.80" font-size="6.4" fill="#2d2d2d" stroke="#2d2d2d" stroke-width="0.12" textLength="35.20" lengthAdjust="spacingAndGlyphs">PTCY-HSCT</text>
<text x="183.3" y="418.5" font-size="6.4" fill="#2d2d2d" stroke="#2d2d2d" stroke-width="0.12" textLength="24.5" lengthAdjust="spacingAndGlyphs"><tspan font-style="italic">P</tspan> = .804</text>
<text x="35.10" y="457.60" font-size="6.4" fill="#2d2d2d" stroke="#2d2d2d" stroke-width="0.12" textLength="27.20" lengthAdjust="spacingAndGlyphs">N at risk:</text>
<text x="40.70" y="467.90" font-size="6.6" fill="#b0344f" stroke="#b0344f" stroke-width="0.12" text-anchor="middle">144</text>
<text x="40.70" y="478.30" font-size="6.6" fill="#3c6286" stroke="#3c6286" stroke-width="0.12" text-anchor="middle">125</text>
<text x="75.00" y="467.90" font-size="6.6" fill="#b0344f" stroke="#b0344f" stroke-width="0.12" text-anchor="middle">82</text>
<text x="75.00" y="478.30" font-size="6.6" fill="#3c6286" stroke="#3c6286" stroke-width="0.12" text-anchor="middle">67</text>
<text x="109.30" y="467.90" font-size="6.6" fill="#b0344f" stroke="#b0344f" stroke-width="0.12" text-anchor="middle">72</text>
<text x="109.30" y="478.30" font-size="6.6" fill="#3c6286" stroke="#3c6286" stroke-width="0.12" text-anchor="middle">49</text>
<text x="143.60" y="467.90" font-size="6.6" fill="#b0344f" stroke="#b0344f" stroke-width="0.12" text-anchor="middle">62</text>
<text x="143.60" y="478.30" font-size="6.6" fill="#3c6286" stroke="#3c6286" stroke-width="0.12" text-anchor="middle">32</text>
<text x="177.90" y="467.90" font-size="6.6" fill="#b0344f" stroke="#b0344f" stroke-width="0.12" text-anchor="middle">55</text>
<text x="177.90" y="478.30" font-size="6.6" fill="#3c6286" stroke="#3c6286" stroke-width="0.12" text-anchor="middle">23</text>
<text x="212.20" y="467.90" font-size="6.6" fill="#b0344f" stroke="#b0344f" stroke-width="0.12" text-anchor="middle">38</text>
<text x="212.20" y="478.30" font-size="6.6" fill="#3c6286" stroke="#3c6286" stroke-width="0.12" text-anchor="middle">13</text>
<text x="248.00" y="262.90" font-size="11.8" fill="#111" font-weight="bold">D</text>
<text x="405.80" y="296.90" font-size="9.7" fill="#2d2d2d" stroke="#2d2d2d" stroke-width="0.12" textLength="50.40" lengthAdjust="spacingAndGlyphs">MVA for EFS</text>
<text x="426.20" y="308.10" font-size="6.5" fill="#2d2d2d" stroke="#2d2d2d" stroke-width="0.12" textLength="10.30" lengthAdjust="spacingAndGlyphs">EFS</text>
<line x1="350.20" y1="422.40" x2="512.00" y2="422.40" stroke="#161616" stroke-width="1.1"/>
<line x1="352.00" y1="422.40" x2="352.00" y2="425.40" stroke="#161616" stroke-width="1.0"/>
<line x1="375.78" y1="422.40" x2="375.78" y2="425.00" stroke="#161616" stroke-width="1.0"/>
<line x1="389.69" y1="422.40" x2="389.69" y2="425.00" stroke="#161616" stroke-width="1.0"/>
<line x1="399.56" y1="422.40" x2="399.56" y2="425.00" stroke="#161616" stroke-width="1.0"/>
<line x1="407.22" y1="422.40" x2="407.22" y2="425.00" stroke="#161616" stroke-width="1.0"/>
<line x1="413.47" y1="422.40" x2="413.47" y2="425.00" stroke="#161616" stroke-width="1.0"/>
<line x1="418.76" y1="422.40" x2="418.76" y2="425.00" stroke="#161616" stroke-width="1.0"/>
<line x1="423.34" y1="422.40" x2="423.34" y2="425.00" stroke="#161616" stroke-width="1.0"/>
<line x1="427.39" y1="422.40" x2="427.39" y2="425.00" stroke="#161616" stroke-width="1.0"/>
<line x1="431.00" y1="422.40" x2="431.00" y2="425.40" stroke="#161616" stroke-width="1.0"/>
<line x1="454.78" y1="422.40" x2="454.78" y2="425.00" stroke="#161616" stroke-width="1.0"/>
<line x1="468.69" y1="422.40" x2="468.69" y2="425.00" stroke="#161616" stroke-width="1.0"/>
<line x1="478.56" y1="422.40" x2="478.56" y2="425.00" stroke="#161616" stroke-width="1.0"/>
<line x1="486.22" y1="422.40" x2="486.22" y2="425.00" stroke="#161616" stroke-width="1.0"/>
<line x1="492.47" y1="422.40" x2="492.47" y2="425.00" stroke="#161616" stroke-width="1.0"/>
<line x1="497.76" y1="422.40" x2="497.76" y2="425.00" stroke="#161616" stroke-width="1.0"/>
<line x1="502.34" y1="422.40" x2="502.34" y2="425.00" stroke="#161616" stroke-width="1.0"/>
<line x1="506.39" y1="422.40" x2="506.39" y2="425.00" stroke="#161616" stroke-width="1.0"/>
<line x1="510.00" y1="422.40" x2="510.00" y2="425.40" stroke="#161616" stroke-width="1.0"/>
<text x="352.00" y="435.50" font-size="6.3" fill="#2d2d2d" stroke="#2d2d2d" stroke-width="0.12" text-anchor="middle">0.1</text>
<text x="383.44" y="435.50" font-size="6.3" fill="#2d2d2d" stroke="#2d2d2d" stroke-width="0.12" text-anchor="middle">0.25</text>
<text x="407.22" y="435.50" font-size="6.3" fill="#2d2d2d" stroke="#2d2d2d" stroke-width="0.12" text-anchor="middle">0.5</text>
<text x="431.00" y="435.50" font-size="6.3" fill="#2d2d2d" stroke="#2d2d2d" stroke-width="0.12" text-anchor="middle">1</text>
<text x="486.22" y="435.50" font-size="6.3" fill="#2d2d2d" stroke="#2d2d2d" stroke-width="0.12" text-anchor="middle">5</text>
<text x="510.00" y="435.50" font-size="6.3" fill="#2d2d2d" stroke="#2d2d2d" stroke-width="0.12" text-anchor="middle">10</text>
<line x1="429.60" y1="339.80" x2="460.17" y2="339.80" stroke="#b3304d" stroke-width="1.2"/>
<line x1="429.60" y1="337.80" x2="429.60" y2="341.80" stroke="#b3304d" stroke-width="1.0"/>
<line x1="460.17" y1="337.80" x2="460.17" y2="341.80" stroke="#b3304d" stroke-width="1.0"/>
<rect x="443.01" y="337.90" width="3.8" height="3.8" fill="#a4142e"/>
<line x1="438.66" y1="379.80" x2="468.81" y2="379.80" stroke="#b3304d" stroke-width="1.2"/>
<line x1="438.66" y1="377.80" x2="438.66" y2="381.80" stroke="#b3304d" stroke-width="1.0"/>
<line x1="468.81" y1="377.80" x2="468.81" y2="381.80" stroke="#b3304d" stroke-width="1.0"/>
<rect x="452.36" y="377.90" width="3.8" height="3.8" fill="#a4142e"/>
<line x1="431.00" y1="313.50" x2="431.00" y2="422.40" stroke="#5c5c5c" stroke-width="1.6"/>
<text x="412.70" y="447.70" font-size="8.7" fill="#2d2d2d" stroke="#2d2d2d" stroke-width="0.12" textLength="37.10" lengthAdjust="spacingAndGlyphs">Hazard ratio</text>
<text x="350.00" y="324.60" font-size="6.8" fill="#2d2d2d" stroke="#2d2d2d" stroke-width="0.12" textLength="35.00" lengthAdjust="spacingAndGlyphs">HR (95% CI)</text>
<text x="489.6" y="324.4" font-size="6.8" fill="#2d2d2d" stroke="#2d2d2d" stroke-width="0.12" textLength="21.7" lengthAdjust="spacingAndGlyphs"><tspan font-style="italic">P</tspan>-value</text>
<text x="267.10" y="338.00" font-size="6.8" fill="#2d2d2d" stroke="#2d2d2d" stroke-width="0.12" textLength="79.40" lengthAdjust="spacingAndGlyphs">Pre-HSCT morbidity score:</text>
<text x="314.80" y="345.60" font-size="6.8" fill="#2d2d2d" stroke="#2d2d2d" stroke-width="0.12" textLength="31.40" lengthAdjust="spacingAndGlyphs">≥ 2 vs 0-1</text>
<text x="349.40" y="338.00" font-size="6.8" fill="#2d2d2d" stroke="#2d2d2d" stroke-width="0.12" textLength="50.60" lengthAdjust="spacingAndGlyphs">1.50 (0.96 - 2.34)</text>
<text x="494.00" y="341.00" font-size="6.8" fill="#2d2d2d" stroke="#2d2d2d" stroke-width="0.12" textLength="13.00" lengthAdjust="spacingAndGlyphs">.055</text>
<text x="294.90" y="382.00" font-size="6.8" fill="#2d2d2d" stroke="#2d2d2d" stroke-width="0.12" textLength="51.30" lengthAdjust="spacingAndGlyphs">Bu/Treo vs others</text>
<text x="349.70" y="382.00" font-size="6.8" fill="#2d2d2d" stroke="#2d2d2d" stroke-width="0.12" textLength="50.30" lengthAdjust="spacingAndGlyphs">1.97 (1.25 - 3.01)</text>
<text x="494.00" y="381.50" font-size="6.8" fill="#2d2d2d" stroke="#2d2d2d" stroke-width="0.12" textLength="13.00" lengthAdjust="spacingAndGlyphs">.050</text>
<text x="10.80" y="499.70" font-size="11.8" fill="#111" font-weight="bold">E</text>
<text x="62.20" y="500.90" font-size="9.8" fill="#2d2d2d" stroke="#2d2d2d" stroke-width="0.12" textLength="134.00" lengthAdjust="spacingAndGlyphs">Entire cohort: Grade III-IV aGvHD</text>
<path d="M56.30,659.70H56.97V659.46H57.64V659.21H58.31V658.97H58.99V658.73H59.66V658.49H60.33V658.24H61.00V658.00H61.62V657.00H62.25V656.00H62.88V655.00H63.50V654.00H64.12V653.00H64.75V652.00H65.38V651.00H66.00V650.00H66.64V649.04H67.28V648.08H67.92V647.12H68.56V646.16H69.20V645.20H69.90V644.53H70.60V643.85H71.30V643.17H72.00V642.50H72.67V642.10H73.33V641.70H74.00V641.30H74.69V641.03H75.37V640.76H76.06V640.49H76.74V640.21H77.43V639.94H78.11V639.67H78.80V639.40H88.50V637.00H97.70V635.60H111.20V633.60H120.00V632.50H128.50V631.70H139.20V629.80H213.80V629.80L213.80,647.10L213.80,647.10L139.20,647.10L139.20,647.30L128.00,647.30L128.00,647.70L111.20,647.70L111.20,649.00L97.70,649.00L97.70,650.50L88.00,650.50L88.00,652.00L78.50,652.00L78.50,652.50L77.75,652.50L77.75,653.00L77.00,653.00L77.00,653.50L76.25,653.50L76.25,654.00L75.50,654.00L75.50,654.50L74.75,654.50L74.75,655.00L74.00,655.00L74.00,655.39L73.26,655.39L73.26,655.77L72.51,655.77L72.51,656.16L71.77,656.16L71.77,656.54L71.03,656.54L71.03,656.93L70.29,656.93L70.29,657.31L69.54,657.31L69.54,657.70L68.80,657.70L68.80,659.70L56.30,659.70Z" fill="#c8cce6" fill-opacity="0.6"/>
<path d="M59.20,659.70H59.90V659.28H60.60V658.85H61.30V658.42H62.00V658.00H62.67V657.67H63.33V657.33H64.00V657.00H64.67V656.67H65.33V656.33H66.00V656.00H66.67V655.72H67.33V655.44H68.00V655.17H68.67V654.89H69.33V654.61H70.00V654.33H70.67V654.06H71.33V653.78H72.00V653.50H78.50V652.00H88.00V651.20H97.70V650.50H111.00V650.00H126.50V649.30H127.25V648.75H128.00V648.20H175.40V647.70H213.80V647.70L213.80,655.50L213.80,656.50L128.00,656.50L128.00,659.20L80.00,659.20L80.00,659.70L59.20,659.70Z" fill="#f6cccc" fill-opacity="0.7"/>
<path d="M40.60,659.70H56.30V659.70H58.00V659.00H58.80V658.35H59.60V657.70H60.40V657.23H61.20V656.77H62.00V656.30H62.80V655.80H63.60V655.30H64.40V654.80H65.20V654.20H66.00V653.60H66.80V653.00H67.60V652.33H68.40V651.67H69.20V651.00H69.92V650.27H70.65V649.55H71.38V648.83H72.10V648.10H72.73V647.73H73.37V647.37H74.00V647.00H76.00V646.20H76.69V645.99H77.37V645.77H78.06V645.56H78.74V645.34H79.43V645.13H80.11V644.91H80.80V644.70H85.60V643.80H92.30V642.80H100.00V642.30H109.20V642.00H109.92V641.65H110.65V641.30H111.38V640.95H112.10V640.60H126.70V640.40H127.50V639.40H139.20V639.40H139.20V638.10H213.80V638.10" stroke="#4a5a84" fill="none" stroke-width="1.1"/>
<path d="M59.20,659.70H62.00V659.20H65.00V658.50H68.80V657.70H74.60V656.70H90.00V655.80H97.70V654.80H127.70V654.80H127.70V652.90H175.40V652.90H175.40V651.50H213.80V651.50" stroke="#9a2d4a" fill="none" stroke-width="1.1"/>
<line x1="40.80" y1="505.80" x2="40.80" y2="660.30" stroke="#161616" stroke-width="1.1"/>
<line x1="37.70" y1="508.60" x2="40.80" y2="508.60" stroke="#161616" stroke-width="1"/>
<text x="33.50" y="510.80" font-size="6.3" fill="#2d2d2d" stroke="#2d2d2d" stroke-width="0.12" text-anchor="end">100</text>
<line x1="37.70" y1="546.40" x2="40.80" y2="546.40" stroke="#161616" stroke-width="1"/>
<text x="33.50" y="548.60" font-size="6.3" fill="#2d2d2d" stroke="#2d2d2d" stroke-width="0.12" text-anchor="end">75</text>
<line x1="37.70" y1="584.20" x2="40.80" y2="584.20" stroke="#161616" stroke-width="1"/>
<text x="33.50" y="586.40" font-size="6.3" fill="#2d2d2d" stroke="#2d2d2d" stroke-width="0.12" text-anchor="end">50</text>
<line x1="37.70" y1="622.00" x2="40.80" y2="622.00" stroke="#161616" stroke-width="1"/>
<text x="33.50" y="624.20" font-size="6.3" fill="#2d2d2d" stroke="#2d2d2d" stroke-width="0.12" text-anchor="end">25</text>
<line x1="37.70" y1="659.80" x2="40.80" y2="659.80" stroke="#161616" stroke-width="1"/>
<text x="33.50" y="662.00" font-size="6.3" fill="#2d2d2d" stroke="#2d2d2d" stroke-width="0.12" text-anchor="end">0</text>
<line x1="40.30" y1="659.80" x2="216.20" y2="659.80" stroke="#161616" stroke-width="1.1"/>
<line x1="40.60" y1="659.80" x2="40.60" y2="663.00" stroke="#161616" stroke-width="1"/>
<text x="40.60" y="672.80" font-size="6.3" fill="#2d2d2d" stroke="#2d2d2d" stroke-width="0.12" text-anchor="middle">0</text>
<line x1="57.87" y1="659.80" x2="57.87" y2="663.00" stroke="#161616" stroke-width="1"/>
<text x="57.87" y="672.80" font-size="6.3" fill="#2d2d2d" stroke="#2d2d2d" stroke-width="0.12" text-anchor="middle">10</text>
<line x1="75.14" y1="659.80" x2="75.14" y2="663.00" stroke="#161616" stroke-width="1"/>
<text x="75.14" y="672.80" font-size="6.3" fill="#2d2d2d" stroke="#2d2d2d" stroke-width="0.12" text-anchor="middle">20</text>
<line x1="92.41" y1="659.80" x2="92.41" y2="663.00" stroke="#161616" stroke-width="1"/>
<text x="92.41" y="672.80" font-size="6.3" fill="#2d2d2d" stroke="#2d2d2d" stroke-width="0.12" text-anchor="middle">30</text>
<line x1="109.68" y1="659.80" x2="109.68" y2="663.00" stroke="#161616" stroke-width="1"/>
<text x="109.68" y="672.80" font-size="6.3" fill="#2d2d2d" stroke="#2d2d2d" stroke-width="0.12" text-anchor="middle">40</text>
<line x1="126.95" y1="659.80" x2="126.95" y2="663.00" stroke="#161616" stroke-width="1"/>
<text x="126.95" y="672.80" font-size="6.3" fill="#2d2d2d" stroke="#2d2d2d" stroke-width="0.12" text-anchor="middle">50</text>
<line x1="144.22" y1="659.80" x2="144.22" y2="663.00" stroke="#161616" stroke-width="1"/>
<text x="144.22" y="672.80" font-size="6.3" fill="#2d2d2d" stroke="#2d2d2d" stroke-width="0.12" text-anchor="middle">60</text>
<line x1="161.49" y1="659.80" x2="161.49" y2="663.00" stroke="#161616" stroke-width="1"/>
<text x="161.49" y="672.80" font-size="6.3" fill="#2d2d2d" stroke="#2d2d2d" stroke-width="0.12" text-anchor="middle">70</text>
<line x1="178.76" y1="659.80" x2="178.76" y2="663.00" stroke="#161616" stroke-width="1"/>
<text x="178.76" y="672.80" font-size="6.3" fill="#2d2d2d" stroke="#2d2d2d" stroke-width="0.12" text-anchor="middle">80</text>
<line x1="196.03" y1="659.80" x2="196.03" y2="663.00" stroke="#161616" stroke-width="1"/>
<text x="196.03" y="672.80" font-size="6.3" fill="#2d2d2d" stroke="#2d2d2d" stroke-width="0.12" text-anchor="middle">90</text>
<line x1="213.30" y1="659.80" x2="213.30" y2="663.00" stroke="#161616" stroke-width="1"/>
<text x="213.30" y="672.80" font-size="6.3" fill="#2d2d2d" stroke="#2d2d2d" stroke-width="0.12" text-anchor="middle">100</text>
<text stroke="#2d2d2d" stroke-width="0.12" transform="translate(18.3,582.8) rotate(-90)" font-size="8.6" fill="#2d2d2d" text-anchor="middle" textLength="79" lengthAdjust="spacingAndGlyphs">Cumulative incidence (%)</text>
<text x="71.90" y="684.50" font-size="8.7" fill="#2d2d2d" stroke="#2d2d2d" stroke-width="0.12" textLength="114.10" lengthAdjust="spacingAndGlyphs">Days since transplant/post-transplant</text>
<line x1="48.10" y1="515.50" x2="57.20" y2="515.50" stroke="#d0607a" stroke-width="1.2"/>
<text x="60.90" y="518.20" font-size="6.4" fill="#2d2d2d" stroke="#2d2d2d" stroke-width="0.12" textLength="38.30" lengthAdjust="spacingAndGlyphs">TCRαβ-HSCT</text>
<line x1="48.10" y1="527.20" x2="57.20" y2="527.20" stroke="#5a7ca3" stroke-width="1.2"/>
<text x="60.90" y="529.90" font-size="6.4" fill="#2d2d2d" stroke="#2d2d2d" stroke-width="0.12" textLength="34.30" lengthAdjust="spacingAndGlyphs">PTCY-HSCT</text>
<text x="182.2" y="518.2" font-size="6.4" fill="#2d2d2d" stroke="#2d2d2d" stroke-width="0.12" textLength="24.2" lengthAdjust="spacingAndGlyphs"><tspan font-style="italic">P</tspan> = .007</text>
<text x="34.60" y="696.00" font-size="6.4" fill="#2d2d2d" stroke="#2d2d2d" stroke-width="0.12" textLength="28.00" lengthAdjust="spacingAndGlyphs">N at risk:</text>
<text x="40.70" y="707.70" font-size="6.6" fill="#b0344f" stroke="#b0344f" stroke-width="0.12" text-anchor="middle">164</text>
<text x="40.70" y="718.00" font-size="6.6" fill="#3c6286" stroke="#3c6286" stroke-width="0.12" text-anchor="middle">137</text>
<text x="57.97" y="707.70" font-size="6.6" fill="#b0344f" stroke="#b0344f" stroke-width="0.12" text-anchor="middle">160</text>
<text x="57.97" y="718.00" font-size="6.6" fill="#3c6286" stroke="#3c6286" stroke-width="0.12" text-anchor="middle">134</text>
<text x="75.24" y="707.70" font-size="6.6" fill="#b0344f" stroke="#b0344f" stroke-width="0.12" text-anchor="middle">146</text>
<text x="75.24" y="718.00" font-size="6.6" fill="#3c6286" stroke="#3c6286" stroke-width="0.12" text-anchor="middle">118</text>
<text x="92.51" y="707.70" font-size="6.6" fill="#b0344f" stroke="#b0344f" stroke-width="0.12" text-anchor="middle">139</text>
<text x="92.51" y="718.00" font-size="6.6" fill="#3c6286" stroke="#3c6286" stroke-width="0.12" text-anchor="middle">112</text>
<text x="109.78" y="707.70" font-size="6.6" fill="#b0344f" stroke="#b0344f" stroke-width="0.12" text-anchor="middle">132</text>
<text x="109.78" y="718.00" font-size="6.6" fill="#3c6286" stroke="#3c6286" stroke-width="0.12" text-anchor="middle">105</text>
<text x="127.05" y="707.70" font-size="6.6" fill="#b0344f" stroke="#b0344f" stroke-width="0.12" text-anchor="middle">131</text>
<text x="127.05" y="718.00" font-size="6.6" fill="#3c6286" stroke="#3c6286" stroke-width="0.12" text-anchor="middle">100</text>
<text x="144.32" y="707.70" font-size="6.6" fill="#b0344f" stroke="#b0344f" stroke-width="0.12" text-anchor="middle">125</text>
<text x="144.32" y="718.00" font-size="6.6" fill="#3c6286" stroke="#3c6286" stroke-width="0.12" text-anchor="middle">95</text>
<text x="161.59" y="707.70" font-size="6.6" fill="#b0344f" stroke="#b0344f" stroke-width="0.12" text-anchor="middle">122</text>
<text x="161.59" y="718.00" font-size="6.6" fill="#3c6286" stroke="#3c6286" stroke-width="0.12" text-anchor="middle">94</text>
<text x="178.86" y="707.70" font-size="6.6" fill="#b0344f" stroke="#b0344f" stroke-width="0.12" text-anchor="middle">121</text>
<text x="178.86" y="718.00" font-size="6.6" fill="#3c6286" stroke="#3c6286" stroke-width="0.12" text-anchor="middle">94</text>
<text x="196.13" y="707.70" font-size="6.6" fill="#b0344f" stroke="#b0344f" stroke-width="0.12" text-anchor="middle">120</text>
<text x="196.13" y="718.00" font-size="6.6" fill="#3c6286" stroke="#3c6286" stroke-width="0.12" text-anchor="middle">91</text>
<text x="213.40" y="707.70" font-size="6.6" fill="#b0344f" stroke="#b0344f" stroke-width="0.12" text-anchor="middle">119</text>
<text x="213.40" y="718.00" font-size="6.6" fill="#3c6286" stroke="#3c6286" stroke-width="0.12" text-anchor="middle">91</text>
<text x="248.00" y="499.70" font-size="11.8" fill="#111" font-weight="bold">F</text>
<text x="360.40" y="500.70" font-size="9.8" fill="#2d2d2d" stroke="#2d2d2d" stroke-width="0.12" textLength="84.30" lengthAdjust="spacingAndGlyphs">Entire cohort: cGvHD</text>
<path d="M361.50,659.50H361.50V655.60H369.20V653.70H383.70V650.80H394.20V649.80H394.93V649.44H395.65V649.07H396.38V648.71H397.10V648.35H397.82V647.99H398.55V647.62H399.27V647.26H400.00V646.90H407.70V645.00H415.00V643.00H423.00V641.20H423.67V640.83H424.33V640.47H425.00V640.10H425.67V639.73H426.33V639.37H427.00V639.00H427.76V638.66H428.52V638.32H429.28V637.98H430.04V637.64H430.80V637.30H446.20V637.20H446.20V635.90H487.60V635.90L487.60,655.70L487.60,656.00L446.20,656.00L446.20,656.50L427.00,656.50L427.00,658.00L415.00,658.00L415.00,659.20L400.00,659.20L400.00,659.50L361.50,659.50Z" fill="#c8cce6" fill-opacity="0.55"/>
<path d="M371.20,659.50H378.80V658.50H379.47V657.83H380.13V657.17H380.80V656.50H393.30V655.00H393.97V654.64H394.64V654.29H395.31V653.93H395.99V653.57H396.66V653.21H397.33V652.86H398.00V652.50H407.70V652.00H417.30V651.50H417.99V651.14H418.67V650.79H419.36V650.43H420.04V650.07H420.73V649.71H421.41V649.36H422.10V649.00H422.75V648.75H423.40V648.50H424.05V648.25H424.70V648.00H425.35V647.75H426.00V647.50H446.20V647.00H446.20V645.80H487.60V645.80L487.60,656.50L487.60,657.00L446.20,657.00L446.20,659.20L420.00,659.20L420.00,659.50L371.20,659.50Z" fill="#f6cccc" fill-opacity="0.6"/>
<path d="M361.50,659.50H361.50V657.50H381.70V656.50H383.70V655.60H394.20V654.60H394.93V654.36H395.65V654.12H396.38V653.89H397.10V653.65H397.82V653.41H398.55V653.18H399.27V652.94H400.00V652.70H407.70V650.80H408.33V650.33H408.97V649.87H409.60V649.40H421.20V648.80H421.93V648.56H422.65V648.32H423.38V648.09H424.10V647.85H424.82V647.61H425.55V647.38H426.27V647.14H427.00V646.90H427.70V646.42H428.40V645.95H429.10V645.48H429.80V645.00H444.20V644.60H444.87V644.20H445.53V643.80H446.20V643.40H487.60V643.40" stroke="#4a5a84" fill="none" stroke-width="1.1"/>
<path d="M371.20,659.70H378.80V659.40H379.47V658.77H380.13V658.13H380.80V657.50H393.30V656.50H393.97V656.23H394.64V655.96H395.31V655.69H395.99V655.41H396.66V655.14H397.33V654.87H398.00V654.60H407.70V654.20H417.30V653.70H417.99V653.41H418.67V653.13H419.36V652.84H420.04V652.56H420.73V652.27H421.41V651.99H422.10V651.70H422.75V651.48H423.40V651.27H424.05V651.05H424.70V650.83H425.35V650.62H426.00V650.40H446.20V650.30H446.20V649.00H487.60V649.00" stroke="#9a2d4a" fill="none" stroke-width="1.1"/>
<line x1="314.00" y1="506.30" x2="314.00" y2="660.70" stroke="#161616" stroke-width="1.1"/>
<line x1="310.90" y1="508.60" x2="314.00" y2="508.60" stroke="#161616" stroke-width="1"/>
<text x="307.60" y="510.80" font-size="6.3" fill="#2d2d2d" stroke="#2d2d2d" stroke-width="0.12" text-anchor="end">100</text>
<line x1="310.90" y1="546.50" x2="314.00" y2="546.50" stroke="#161616" stroke-width="1"/>
<text x="307.60" y="548.70" font-size="6.3" fill="#2d2d2d" stroke="#2d2d2d" stroke-width="0.12" text-anchor="end">75</text>
<line x1="310.90" y1="584.40" x2="314.00" y2="584.40" stroke="#161616" stroke-width="1"/>
<text x="307.60" y="586.60" font-size="6.3" fill="#2d2d2d" stroke="#2d2d2d" stroke-width="0.12" text-anchor="end">50</text>
<line x1="310.90" y1="622.30" x2="314.00" y2="622.30" stroke="#161616" stroke-width="1"/>
<text x="307.60" y="624.50" font-size="6.3" fill="#2d2d2d" stroke="#2d2d2d" stroke-width="0.12" text-anchor="end">25</text>
<line x1="310.90" y1="660.20" x2="314.00" y2="660.20" stroke="#161616" stroke-width="1"/>
<text x="307.60" y="662.40" font-size="6.3" fill="#2d2d2d" stroke="#2d2d2d" stroke-width="0.12" text-anchor="end">0</text>
<line x1="313.50" y1="660.20" x2="490.00" y2="660.20" stroke="#161616" stroke-width="1.1"/>
<line x1="313.90" y1="660.20" x2="313.90" y2="663.40" stroke="#161616" stroke-width="1"/>
<text x="313.90" y="673.00" font-size="6.3" fill="#2d2d2d" stroke="#2d2d2d" stroke-width="0.12" text-anchor="middle">0</text>
<line x1="357.20" y1="660.20" x2="357.20" y2="663.40" stroke="#161616" stroke-width="1"/>
<text x="357.20" y="673.00" font-size="6.3" fill="#2d2d2d" stroke="#2d2d2d" stroke-width="0.12" text-anchor="middle">3</text>
<line x1="400.50" y1="660.20" x2="400.50" y2="663.40" stroke="#161616" stroke-width="1"/>
<text x="400.50" y="673.00" font-size="6.3" fill="#2d2d2d" stroke="#2d2d2d" stroke-width="0.12" text-anchor="middle">6</text>
<line x1="443.80" y1="660.20" x2="443.80" y2="663.40" stroke="#161616" stroke-width="1"/>
<text x="443.80" y="673.00" font-size="6.3" fill="#2d2d2d" stroke="#2d2d2d" stroke-width="0.12" text-anchor="middle">9</text>
<line x1="487.10" y1="660.20" x2="487.10" y2="663.40" stroke="#161616" stroke-width="1"/>
<text x="487.10" y="673.00" font-size="6.3" fill="#2d2d2d" stroke="#2d2d2d" stroke-width="0.12" text-anchor="middle">12</text>
<text stroke="#2d2d2d" stroke-width="0.12" transform="translate(291.6,582.7) rotate(-90)" font-size="8.6" fill="#2d2d2d" text-anchor="middle" textLength="78.7" lengthAdjust="spacingAndGlyphs">Cumulative incidence (%)</text>
<text x="365.80" y="685.00" font-size="8.7" fill="#2d2d2d" stroke="#2d2d2d" stroke-width="0.12" textLength="73.00" lengthAdjust="spacingAndGlyphs">Months since treatment</text>
<line x1="321.30" y1="515.40" x2="330.40" y2="515.40" stroke="#d0607a" stroke-width="1.2"/>
<text x="333.80" y="517.90" font-size="6.4" fill="#2d2d2d" stroke="#2d2d2d" stroke-width="0.12" textLength="40.00" lengthAdjust="spacingAndGlyphs">TCRαβ-HSCT</text>
<line x1="321.30" y1="527.50" x2="330.40" y2="527.50" stroke="#5a7ca3" stroke-width="1.2"/>
<text x="333.80" y="529.80" font-size="6.4" fill="#2d2d2d" stroke="#2d2d2d" stroke-width="0.12" textLength="36.00" lengthAdjust="spacingAndGlyphs">PTCY-HSCT</text>
<text x="455.90" y="518.50" font-size="6.4" fill="#2d2d2d" stroke="#2d2d2d" stroke-width="0.12" textLength="24.20" lengthAdjust="spacingAndGlyphs">P = .173</text>
<text x="308.80" y="695.80" font-size="6.4" fill="#2d2d2d" stroke="#2d2d2d" stroke-width="0.12" textLength="27.70" lengthAdjust="spacingAndGlyphs">N at risk:</text>
<text x="314.20" y="706.20" font-size="6.6" fill="#b0344f" stroke="#b0344f" stroke-width="0.12" text-anchor="middle">157</text>
<text x="314.20" y="716.50" font-size="6.6" fill="#3c6286" stroke="#3c6286" stroke-width="0.12" text-anchor="middle">131</text>
<text x="357.50" y="706.20" font-size="6.6" fill="#b0344f" stroke="#b0344f" stroke-width="0.12" text-anchor="middle">119</text>
<text x="357.50" y="716.50" font-size="6.6" fill="#3c6286" stroke="#3c6286" stroke-width="0.12" text-anchor="middle">107</text>
<text x="400.80" y="706.20" font-size="6.6" fill="#b0344f" stroke="#b0344f" stroke-width="0.12" text-anchor="middle">103</text>
<text x="400.80" y="716.50" font-size="6.6" fill="#3c6286" stroke="#3c6286" stroke-width="0.12" text-anchor="middle">91</text>
<text x="444.10" y="706.20" font-size="6.6" fill="#b0344f" stroke="#b0344f" stroke-width="0.12" text-anchor="middle">94</text>
<text x="444.10" y="716.50" font-size="6.6" fill="#3c6286" stroke="#3c6286" stroke-width="0.12" text-anchor="middle">77</text>
<text x="487.40" y="706.20" font-size="6.6" fill="#b0344f" stroke="#b0344f" stroke-width="0.12" text-anchor="middle">89</text>
<text x="487.40" y="716.50" font-size="6.6" fill="#3c6286" stroke="#3c6286" stroke-width="0.12" text-anchor="middle">71</text>
<rect x="0.5" y="0.5" width="519" height="726" fill="none" stroke="#4a4a4a" stroke-width="1"/>
</svg>
</body></html>
